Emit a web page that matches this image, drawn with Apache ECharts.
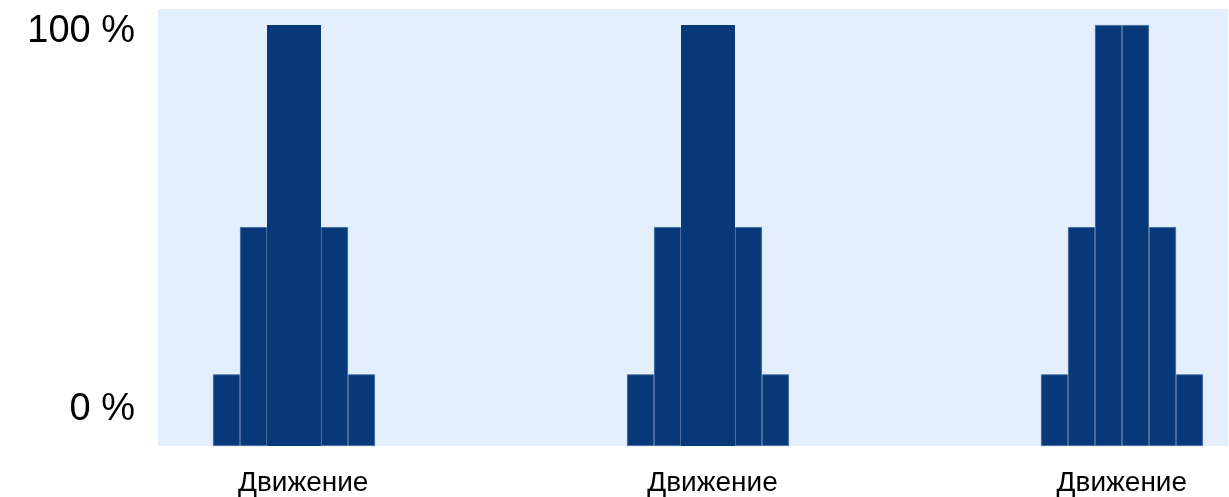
<!DOCTYPE html>
<html>
<head>
<meta charset="utf-8">
<script src="https://cdn.jsdelivr.net/npm/echarts@6/dist/echarts.min.js"></script>
<style>
html,body{margin:0;padding:0;background:#fff;}
#chart{width:1229px;height:497px;}
</style>
</head>
<body>
<div id="chart"></div>
<script>
// ---- data ----
var categories = ['Движение', 'Движение', 'Движение'];
var series1 = [17, 17, 17];
var series2 = [52, 52, 52];
var series3 = [100, 100, 100];
var series4 = [100, 100, 100];
var series5 = [52, 52, 52];
var series6 = [17, 17, 17];
var yTickValues = [0, 100];

var allSeries = [series1, series2, series3, series4, series5, series6];
var FONT = '"Liberation Sans", Arial, sans-serif';
var BAR = '#07397A';
var EDGE = '#3F6697';

var chart = echarts.init(document.getElementById('chart'), null, {renderer: 'canvas'});

var seriesList = allSeries.map(function (vals, si) {
  return {
    type: 'bar',
    xAxisIndex: 1,
    yAxisIndex: 1,
    barWidth: 27,
    barGap: '0%',
    itemStyle: {color: BAR, borderColor: EDGE, borderWidth: 0.8},
    data: vals.map(function (v, ci) {
      // in the first two groups the two central bars form one block
      if ((si === 2 || si === 3) && ci < 2) {
        return {value: v, itemStyle: {borderColor: BAR, borderWidth: 0}};
      }
      return v;
    }),
    silent: true,
    animation: false
  };
});

var option = {
  animation: false,
  grid: [
    {left: 158, right: 1, top: 9, bottom: 51, show: true, backgroundColor: '#E3EFFD', borderWidth: 0, outerBoundsMode: 'none', containLabel: false},
    {left: 87, right: -100, top: 25, bottom: 51, outerBoundsMode: 'none', containLabel: false},
    {left: 98.5, right: -97.5, top: 25, bottom: 51, outerBoundsMode: 'none', containLabel: false}
  ],
  xAxis: [
    {gridIndex: 0, type: 'value', show: false, min: 0, max: 1},
    {gridIndex: 1, type: 'category', data: categories, show: false},
    {gridIndex: 2, type: 'category', data: categories,
      axisLine: {show: false}, axisTick: {show: false}, splitLine: {show: false},
      axisLabel: {fontSize: 28, color: '#000', fontFamily: FONT, margin: 23, interval: 0}}
  ],
  yAxis: [
    {gridIndex: 0, type: 'value', min: -9.52, max: 106.08,
      axisLine: {show: false}, axisTick: {show: false}, splitLine: {show: false},
      axisLabel: {customValues: yTickValues, formatter: '{value} %', fontSize: 38, color: '#000', fontFamily: FONT, margin: 23, padding: [4, 0, 0, 0]}},
    {gridIndex: 1, type: 'value', min: 0, max: 100, show: false},
    {gridIndex: 2, type: 'value', min: 0, max: 100, show: false}
  ],
  series: seriesList
};
chart.setOption(option);
</script>
</body>
</html>
